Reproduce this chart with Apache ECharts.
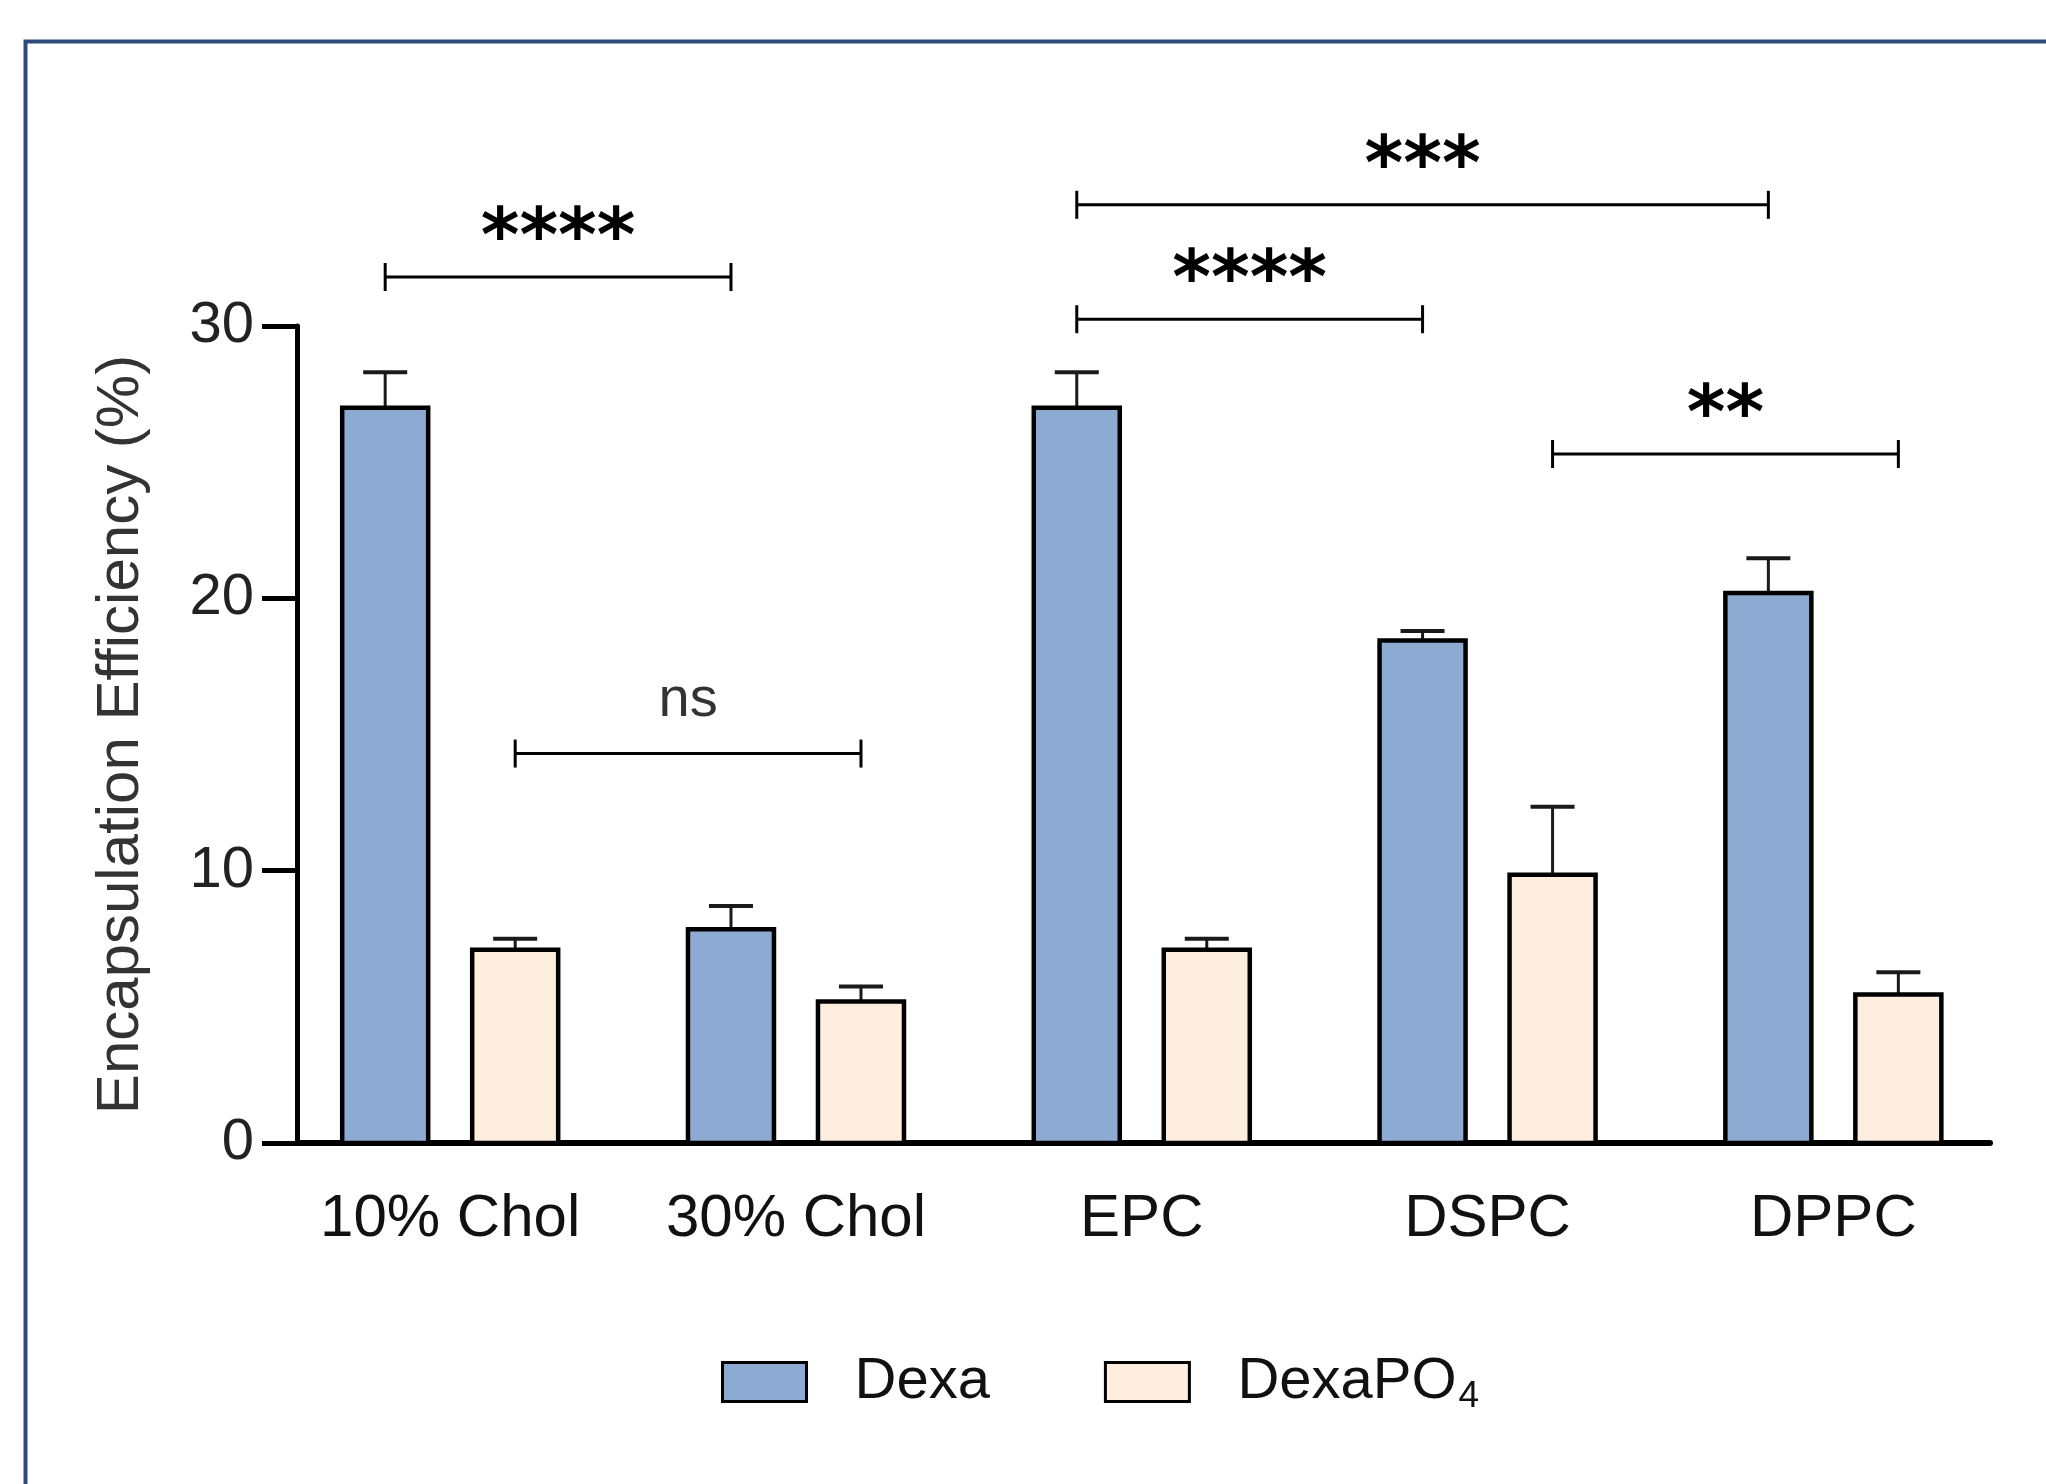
<!DOCTYPE html>
<html>
<head>
<meta charset="utf-8">
<script src="https://cdn.jsdelivr.net/npm/echarts@6/dist/echarts.min.js"></script>
<style>
  html, body { margin: 0; padding: 0; background: #ffffff; }
  #chart { width: 2046px; height: 1484px; }
</style>
</head>
<body>
<div id="chart"></div>
<script>
// ---- data ----
const categories = ['10% Chol', '30% Chol', 'EPC', 'DSPC', 'DPPC'];
const dexaMean   = [27.0, 7.85, 27.0, 18.45, 20.2];
const dexaErr    = [1.3, 0.85, 1.3, 0.35, 1.27];
const dexaPO4Mean = [7.1, 5.2, 7.1, 9.85, 5.45];
const dexaPO4Err  = [0.4, 0.55, 0.4, 2.5, 0.82];
const yTicks = [0, 10, 20, 30];

// significance brackets: from (category, series), to (category, series), bracket level
const sigLabels     = ['****', 'ns', '***', '****', '**'];
const sigFromCat    = [0, 0, 2, 2, 3];
const sigFromSeries = [0, 1, 0, 0, 1];   // 0 = Dexa, 1 = DexaPO4
const sigToCat      = [1, 1, 4, 3, 4];
const sigToSeries   = [0, 1, 0, 0, 1];
const sigLevel      = [31.8, 14.3, 34.45, 30.25, 25.3];

// ---- styles ----
const BAR_W = 86;
const BAR_OFF = 65;
const COLORS = ['#8DAAD3', '#FDEEE0'];
const seriesNames = ['Dexa', 'DexaPO4'];

function barRenderer(seriesIdx) {
  const off = seriesIdx === 0 ? -BAR_OFF : BAR_OFF;
  return function (params, api) {
    const x = api.value(0), v = api.value(1), e = api.value(2);
    const base = api.coord([x, 0]);
    const top = api.coord([x, v]);
    const et = api.coord([x, v + e]);
    const cx = base[0] + off;
    return {
      type: 'group',
      children: [
        { type: 'line', shape: { x1: cx, y1: top[1], x2: cx, y2: et[1] },
          style: { stroke: '#1a1a1a', lineWidth: 3 } },
        { type: 'line', shape: { x1: cx - 22, y1: et[1], x2: cx + 22, y2: et[1] },
          style: { stroke: '#1a1a1a', lineWidth: 4 } },
        { type: 'rect', shape: { x: cx - BAR_W / 2, y: top[1], width: BAR_W, height: base[1] - top[1] },
          style: { fill: COLORS[seriesIdx], stroke: '#000', lineWidth: 4.5 } }
      ]
    };
  };
}

function sigRenderer(params, api) {
  const i = params.dataIndex;
  const fc = api.value(0), fs = api.value(1), tc = api.value(2), ts = api.value(3), lv = api.value(4);
  const p1 = api.coord([fc, lv]);
  const p2 = api.coord([tc, lv]);
  const x1 = p1[0] + (fs === 0 ? -BAR_OFF : BAR_OFF);
  const x2 = p2[0] + (ts === 0 ? -BAR_OFF : BAR_OFF);
  const y = p1[1];
  const label = sigLabels[i];
  const isStar = label.indexOf('*') >= 0;
  return {
    type: 'group',
    children: [
      { type: 'line', shape: { x1: x1, y1: y, x2: x2, y2: y }, style: { stroke: '#000', lineWidth: 3 } },
      { type: 'line', shape: { x1: x1, y1: y - 14, x2: x1, y2: y + 14 }, style: { stroke: '#000', lineWidth: 3 } },
      { type: 'line', shape: { x1: x2, y1: y - 14, x2: x2, y2: y + 14 }, style: { stroke: '#000', lineWidth: 3 } },
      { type: 'text',
        style: {
          text: label,
          x: (x1 + x2) / 2,
          y: isStar ? y - 35 : y - 53,
          align: 'center',
          verticalAlign: 'middle',
          fontFamily: isStar ? 'DejaVu Sans' : 'Liberation Sans, Arial',
          fontWeight: isStar ? 'bold' : 'normal',
          fontSize: isStar ? 74 : 56,
          fill: isStar ? '#000' : '#333'
        } }
    ]
  };
}

const chart = echarts.init(document.getElementById('chart'), null, { renderer: 'canvas' });

const option = {
  backgroundColor: '#ffffff',
  animation: false,
  graphic: [{
    type: 'rect',
    left: 23, top: 39,
    shape: { width: 2100, height: 1500 },
    style: { fill: 'none', stroke: '#2E4A7D', lineWidth: 4 },
    silent: true, z: 100
  }],
  grid: { left: 297, top: 326, right: 56, bottom: 341, containLabel: false },
  legend: {
    left: 716, top: 1348,
    itemWidth: 84, itemHeight: 39,
    itemGap: 114,
    icon: 'rect',
    itemStyle: { borderColor: '#000', borderWidth: 3 },
    data: seriesNames,
    formatter: function (name) {
      return name === 'DexaPO4' ? '{a|DexaPO}{b|4}' : '{a|' + name + '}';
    },
    textStyle: {
      padding: [0, 0, 0, 43],
      rich: {
        a: { fontFamily: 'Liberation Sans, Arial', fontSize: 58, color: '#111' },
        b: { fontFamily: 'Liberation Sans, Arial', fontSize: 37, color: '#111', padding: [30, 0, 0, 2] }
      }
    }
  },
  xAxis: {
    type: 'value',
    min: -0.443,
    max: 4.453,
    minInterval: 1,
    maxInterval: 1,
    splitLine: { show: false },
    axisTick: { show: false },
    axisLine: { show: true, onZero: false, lineStyle: { color: '#000', width: 6 } },
    axisLabel: {
      margin: 46,
      fontFamily: 'Liberation Sans, Arial',
      fontSize: 60,
      color: '#111',
      formatter: function (v) {
        const r = Math.round(v);
        return Math.abs(v - r) < 1e-6 && categories[r] !== undefined ? categories[r] : '';
      }
    }
  },
  yAxis: {
    type: 'value',
    min: 0, max: 30, interval: 10,
    splitLine: { show: false },
    axisLine: { show: true, onZero: false, lineStyle: { color: '#000', width: 5 } },
    axisTick: { show: true, length: 35, lineStyle: { color: '#000', width: 5 } },
    axisLabel: {
      margin: 43,
      fontFamily: 'Liberation Sans, Arial',
      fontSize: 58,
      color: '#222',
      formatter: function (v) { return yTicks.indexOf(v) >= 0 ? String(v) : ''; }
    },
    name: 'Encapsulation Efficiency (%)',
    nameLocation: 'middle',
    nameGap: 146,
    nameTextStyle: { fontFamily: 'Liberation Sans, Arial', fontSize: 60, color: '#333' }
  },
  series: [
    {
      name: 'Dexa', type: 'custom', renderItem: barRenderer(0), clip: false,
      itemStyle: { color: COLORS[0] },
      encode: { x: 0, y: 1 },
      data: categories.map((c, i) => [i, dexaMean[i], dexaErr[i]])
    },
    {
      name: 'DexaPO4', type: 'custom', renderItem: barRenderer(1), clip: false,
      itemStyle: { color: COLORS[1] },
      encode: { x: 0, y: 1 },
      data: categories.map((c, i) => [i, dexaPO4Mean[i], dexaPO4Err[i]])
    },
    {
      name: 'sig', type: 'custom', renderItem: sigRenderer, clip: false, silent: true,
      encode: { x: 0, y: 4 },
      data: sigLabels.map((s, i) => [sigFromCat[i], sigFromSeries[i], sigToCat[i], sigToSeries[i], sigLevel[i]])
    }
  ]
};
chart.setOption(option);
</script>
</body>
</html>
